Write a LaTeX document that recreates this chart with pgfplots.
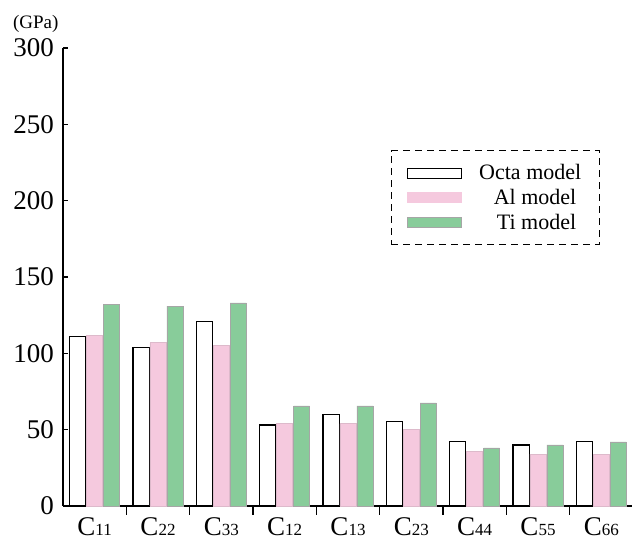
\documentclass[border=0pt]{standalone}
\usepackage{pgfplots}
\pgfplotsset{compat=1.18}
\usepackage{fontspec}
\setmainfont{Liberation Serif}
\definecolor{pinkc}{HTML}{F5C9DE}
\definecolor{greenc}{HTML}{88CC9A}
\newcommand{\Cl}[1]{C{\fontsize{17}{17}\selectfont #1}}
\begin{document}
\begin{tikzpicture}
\begin{axis}[
  scale only axis,
  width=570pt, height=458pt,
  xmin=-0.5, xmax=8.5, ymin=0, ymax=300,
  axis lines*=left,
  axis line style={line width=1.3pt, black},
  ytick={0,50,...,300},
  xtick={0,...,8},
  xticklabels={\Cl{11},\Cl{22},\Cl{33},\Cl{12},\Cl{13},\Cl{23},\Cl{44},\Cl{55},\Cl{66}},
  minor xtick={0.5,1.5,...,7.5},
  major x tick style={draw=none},
  minor x tick style={line width=1.6pt, black},
  y tick style={line width=1.2pt, black},
  tick align=inside,
  major tick length=5pt,
  minor tick length=9pt,
  /pgf/number format/assume math mode=true,
  ticklabel style={font=\fontsize{27}{30}\selectfont},
  xticklabel style={inner sep=0pt, yshift=-6pt},
  yticklabel style={inner sep=0pt, xshift=-9pt},
  ybar, bar width=0.255,
  legend style={at={(rel axis cs:0.575,0.777)}, anchor=north west,
    draw=black, dash pattern=on 7pt off 5pt, line width=1pt, font=\fontsize{22}{26}\selectfont,
    inner xsep=16pt, inner ysep=12pt, row sep=4pt},
  legend cell align=center,
  clip=false,
]
\addplot[bar shift=-0.268, fill=white, draw=black, line width=1.2pt,
  legend image code/.code={\draw[black,fill=white,solid,line width=1pt] (0pt,-5pt) rectangle (54pt,5pt);}]
  coordinates {(0,111) (1,104) (2,121) (3,53) (4,60) (5,55.5) (6,42) (7,40) (8,42)};
\addlegendentry{\makebox[117pt][r]{Octa model}}
\addplot[bar shift=0, fill=pinkc, draw=pinkc!80!gray, line width=0.6pt,
  legend image code/.code={\draw[pinkc,fill=pinkc,solid,line width=0.6pt] (0pt,-5pt) rectangle (54pt,5pt);}]
  coordinates {(0,112) (1,107) (2,105) (3,54) (4,54) (5,50) (6,36) (7,34) (8,34)};
\addlegendentry{\makebox[117pt][r]{Al model\hspace{5pt}}}
\addplot[bar shift=0.268, fill=greenc, draw=gray!70, line width=0.7pt,
  legend image code/.code={\draw[gray!70,fill=greenc,solid,line width=0.7pt] (0pt,-5pt) rectangle (54pt,5pt);}]
  coordinates {(0,132) (1,131) (2,133) (3,65.5) (4,65.5) (5,67.5) (6,38) (7,40) (8,42)};
\addlegendentry{\makebox[117pt][r]{Ti model\hspace{5pt}}}
\node[anchor=base east, yshift=19pt, xshift=-1pt, font=\fontsize{19}{22}\selectfont] at (rel axis cs:0,1) {(GPa)};
\end{axis}
\pgfresetboundingbox
\path[use as bounding box] (-63pt,-34pt) rectangle (569pt,506pt);
\end{tikzpicture}
\end{document}
